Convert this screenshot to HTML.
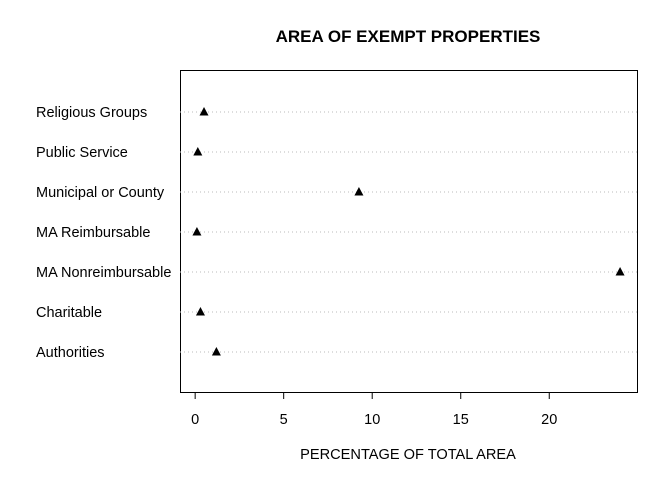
<!DOCTYPE html>
<html><head><meta charset="utf-8"><style>
body{margin:0;background:#fff}
svg text{font-family:"Liberation Sans",Arial,sans-serif;fill:#000}
</style></head><body>
<svg id="chart" width="672" height="480" xmlns="http://www.w3.org/2000/svg">
<rect width="672" height="480" fill="#fff"/>
<text x="408" y="42" text-anchor="middle" font-size="17" font-weight="bold">AREA OF EXEMPT PROPERTIES</text>
<rect x="180.5" y="70.5" width="457" height="322" fill="none" stroke="#000" stroke-width="1"/>
<text x="408" y="459" text-anchor="middle" font-size="14.6">PERCENTAGE OF TOTAL AREA</text>
<g id="grid"></g><g id="labels"></g><g id="axis"></g><g id="marks"></g>
</svg>
<script>
const categories = ["Authorities","Charitable","MA Nonreimbursable","MA Reimbursable","Municipal or County","Public Service","Religious Groups"];
const values = [1.2, 0.3, 24.0, 0.1, 9.25, 0.15, 0.5];
const ticks = [0, 5, 10, 15, 20];
const NS = "http://www.w3.org/2000/svg";
const x0 = 180, x1 = 637;
const lo = Math.min(...values), hi = Math.max(...values), ext = (hi - lo) * 0.04;
const dmin = lo - ext, dmax = hi + ext;
const xs = v => x0 + (v - dmin) / (dmax - dmin) * (x1 - x0);
const ys = i => 392 - 40 * (i + 1);
function mk(tag, attrs, parent) { const e = document.createElementNS(NS, tag); for (const k in attrs) e.setAttribute(k, attrs[k]); document.getElementById(parent).appendChild(e); return e; }
categories.forEach((c, i) => {
  const y = ys(i);
  const g = mk("line", {x1: x0, x2: x1, y1: y, y2: y, stroke: "#bbb", "stroke-dasharray": "1 3", "stroke-width": 1}, "grid");
  
  
  const t = mk("text", {x: 36, y: y + 5, "font-size": 14.5}, "labels");
  t.textContent = c;
  
  
  const cx = xs(values[i]);
  const p = mk("polygon", {points: `${cx},${y-5} ${cx-4.5},${y+3.5} ${cx+4.5},${y+3.5}`, fill: "#000"}, "marks");
  
  
});
const ax = mk("line", {x1: xs(ticks[0]), x2: xs(ticks[ticks.length-1]), y1: 392.5, y2: 392.5, stroke: "#000"}, "axis");


ticks.forEach(v => {
  const x = xs(v);
  const l = mk("line", {x1: x, x2: x, y1: 392, y2: 399, stroke: "#000"}, "axis");
  
  
  const t = mk("text", {x: x, y: 424, "font-size": 14.5, "text-anchor": "middle"}, "axis");
  t.textContent = v;
  
  
});
</script>
</body></html>
